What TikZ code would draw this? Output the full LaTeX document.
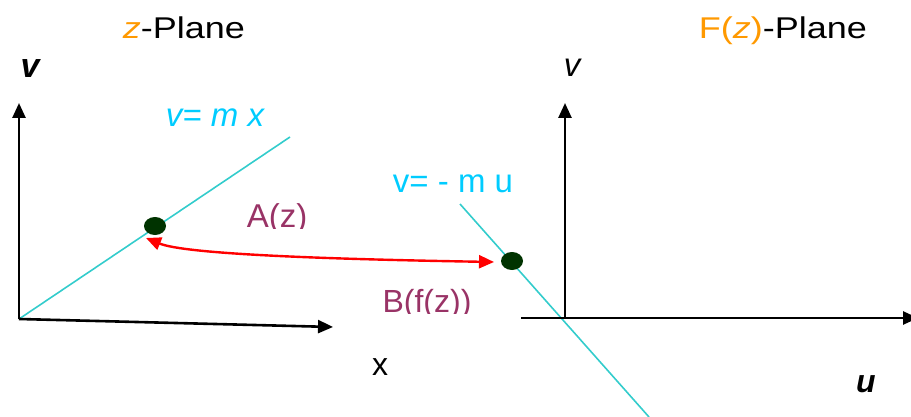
\documentclass[tikz,border=0pt]{standalone}
\usepackage{fontspec}
\setmainfont{Liberation Sans}
\newfontfamily\titlefont[FakeStretch=1.2]{Liberation Sans}
\usetikzlibrary{arrows.meta,shapes.geometric}
\definecolor{orng}{HTML}{FF9900}
\definecolor{cyantxt}{HTML}{00CCFF}
\definecolor{cyanline}{HTML}{33CCCC}
\definecolor{purp}{HTML}{993366}
\definecolor{dotgreen}{HTML}{003300}
\newcommand{\fs}[1]{\fontsize{#1}{#1}\selectfont}
\begin{document}
\begin{tikzpicture}[x=1pt,y=-1pt,
  axis/.style={line width=2.6pt,-{Triangle[length=15pt,width=13pt]}},
  cline/.style={cyanline,line width=1.6pt},
  pt/.style={ellipse,fill=dotgreen,minimum width=22pt,minimum height=18pt,inner sep=0pt},
  txt/.style={anchor=base,inner sep=0pt},
  maparrow/.style={red,line width=2.4pt,{Triangle[length=15pt,width=13pt]}-{Triangle[length=15pt,width=13pt]}}]
\useasboundingbox (0,0) rectangle (911,417);
% left plane
\coordinate (o1) at (19,319);
\coordinate (y1) at (19,103);
\coordinate (x1) at (333,327);
\coordinate (l1a) at (19,319);
\coordinate (l1b) at (290,137);
\draw[cline] (l1a) -- (l1b);
\draw[axis] (o1) -- (y1);
\draw[axis] (o1) -- (x1);
% right plane
\coordinate (o2) at (565,318);
\coordinate (y2) at (565,103);
\coordinate (x2s) at (521,318);
\coordinate (x2) at (918,318);
\coordinate (l2a) at (460,204);
\coordinate (l2b) at (649,417);
\draw[cline] (l2a) -- (l2b);
\draw[axis] (o2) -- (y2);
\draw[axis] (x2s) -- (x2);
% mapping arrow (drawn below the points)
\coordinate (aS) at (146,238);
\coordinate (aE) at (494,262);
\draw[maparrow] (aS) .. controls (185,254) and (320,259) .. (aE);
% points
\node[pt] (pA) at (155,226) {};
\node[pt] (pB) at (512,261) {};
% labels
\node[txt,font=\titlefont\fs{30}] (t1) at (184,39) {\textcolor{orng}{\textit{z}}-Plane};
\node[txt,font=\titlefont\fs{30}] (t2) at (783,39) {\textcolor{orng}{F(\textit{z})}-Plane};
\node[txt,font=\fs{34}\bfseries\itshape] (v1) at (30,78) {v};
\node[txt,font=\fs{33}\itshape] (v2) at (572,77) {v};
\node[txt,font=\fs{33}\itshape,text=cyantxt] (e1) at (215,127) {v= m x};
\node[txt,font=\fs{33},text=cyantxt] (e2) at (453,193) {v= - m u};
\begin{scope}
\clip (0,0) rectangle (911,228);
\node[txt,font=\fs{33},text=purp] (A) at (277,227) {A(z)};
\end{scope}
\begin{scope}
\clip (0,0) rectangle (911,313);
\node[txt,font=\fs{32},text=purp] (B) at (427,312) {B(f(z))};
\end{scope}
\node[txt,font=\fs{32}] (xl) at (380,375) {x};
\node[txt,font=\fs{32}\bfseries\itshape] (ul) at (866,392) {u};
\end{tikzpicture}
\end{document}
